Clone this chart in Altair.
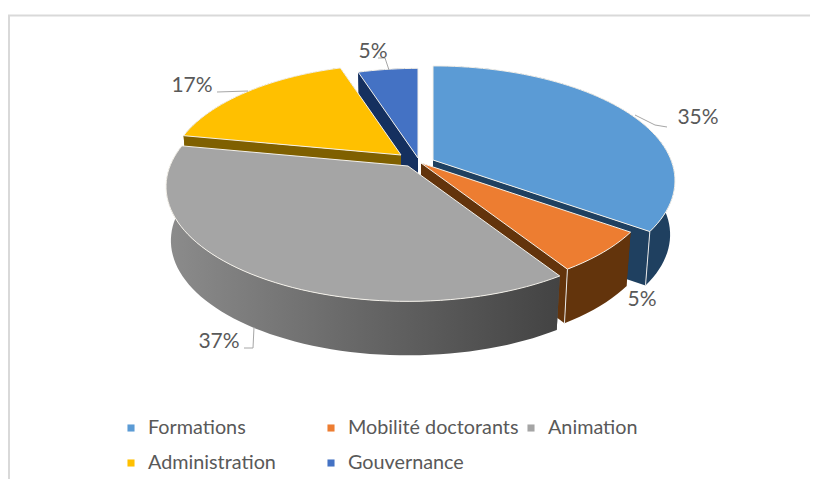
import math
import altair as alt
import pandas as pd

categories = ["Formations", "Mobilité doctorants", "Animation", "Administration", "Gouvernance"]
shares = [34.8, 6.1, 37.1, 17, 5]
labels = ["35%", "5%", "37%", "17%", "5%"]
top_colors = ["#5b9bd5", "#ed7d31", "#a5a5a5", "#ffc000", "#4472c4"]
dark_colors = ["#1f4060", "#63340c", "#555555", "#7f6000", "#15305f"]
apex_x = [433, 421, 408, 401, 418]
apex_y = [160, 163, 166, 155, 158]
radius = [1.0, 0.97, 1.0, 0.96, 0.945]
draw_order = [4, 0, 3, 1, 2]

label_x = [698, 642, 219, 192, 373]
label_y = [118, 300, 342, 86, 52]
leaders = [
    [(635, 115), (655, 125), (667, 127)],
    [(254, 327), (253, 348), (244, 348)],
    [(217, 92), (248, 91)],
    [(378, 58), (385, 58), (389, 70)],
]
legend_x = [131, 331, 531, 131, 331]
legend_y = [428, 428, 428, 463, 463]

W, H, OX, OY = 802, 471, 8, 8
A, B, P, DEPTH, SHRINK = 238, 111, 0.18, 54, 0.98

xs = alt.Scale(domain=[OX, OX + W], range=[0, W])
ys = alt.Scale(domain=[OY, OY + H], range=[0, H])


def rim(i, deg):
    t = math.radians(deg)
    u, v = radius[i] * math.sin(t), radius[i] * math.cos(t)
    s = 1 / (1 + P * v)
    return apex_x[i] + A * u * s, apex_y[i] - B * v * s


def low(i, pt):
    return apex_x[i] + (pt[0] - apex_x[i]) * SHRINK, pt[1] + DEPTH


def poly(points, **mark):
    pts = list(points) + [points[0]]
    df = pd.DataFrame({"x": [p[0] for p in pts], "y": [p[1] for p in pts], "o": range(len(pts))})
    return alt.Chart(df).mark_line(**mark).encode(
        x=alt.X("x:Q", scale=xs, axis=None),
        y=alt.Y("y:Q", scale=ys, axis=None),
        order="o:Q",
    )


def path(points, color, width):
    df = pd.DataFrame({"x": [p[0] for p in points], "y": [p[1] for p in points], "o": range(len(points))})
    return alt.Chart(df).mark_line(color=color, strokeWidth=width).encode(
        x=alt.X("x:Q", scale=xs, axis=None),
        y=alt.Y("y:Q", scale=ys, axis=None),
        order="o:Q",
    )


gray_gradient = alt.Gradient(
    gradient="linear", x1=0, x2=1, y1=0, y2=0,
    stops=[
        alt.GradientStop(color="#8c8c8c", offset=0),
        alt.GradientStop(color="#6a6a6a", offset=0.45),
        alt.GradientStop(color="#434343", offset=1),
    ],
)

starts = []
acc = 0
for s in shares:
    starts.append(acc)
    acc += s * 3.6

layers = []
for i in draw_order:
    a0 = starts[i]
    a1 = a0 + shares[i] * 3.6
    steps = max(8, int((a1 - a0) / 2))
    arc = [rim(i, a0 + (a1 - a0) * k / steps) for k in range(steps + 1)]
    apex = (apex_x[i], apex_y[i])
    dark = dark_colors[i]
    wall_fill = gray_gradient if i == 2 else dark
    layers.append(poly([apex, arc[0], low(i, arc[0]), low(i, apex)], fill=dark, color=dark, strokeWidth=0))
    layers.append(poly([apex, arc[-1], low(i, arc[-1]), low(i, apex)], fill=dark, color=dark, strokeWidth=0))
    layers.append(poly(arc + [low(i, p) for p in reversed(arc)], fill=wall_fill, strokeWidth=0, color=dark))
    if i in (0, 1):
        layers.append(path([arc[-1], low(i, arc[-1])], "#e8e8e8", 1))
    layers.append(poly([apex] + arc, fill=top_colors[i], color="#f4f1ea", strokeWidth=1))

for ln in leaders:
    layers.append(path(ln, "#a6a6a6", 1))

frame = [(9, 479), (9, 15.5), (810, 15.5)]
layers.insert(0, path(frame, "#d9d9d9", 2))

label_df = pd.DataFrame({"x": label_x, "y": label_y, "t": labels})
layers.append(
    alt.Chart(label_df).mark_text(font="Lato", fontSize=21, color="#595959").encode(
        x=alt.X("x:Q", scale=xs, axis=None), y=alt.Y("y:Q", scale=ys, axis=None), text="t:N"
    )
)
legend_df = pd.DataFrame({"x": legend_x, "y": legend_y, "t": categories, "c": top_colors})
legend_df["tx"] = legend_df["x"] + 17
layers.append(
    alt.Chart(legend_df).mark_square(size=50, opacity=1).encode(
        x=alt.X("x:Q", scale=xs, axis=None), y=alt.Y("y:Q", scale=ys, axis=None),
        color=alt.Color("c:N", scale=None),
    )
)
layers.append(
    alt.Chart(legend_df).mark_text(font="Lato", fontSize=19.8, color="#595959", align="left").encode(
        x=alt.X("tx:Q", scale=xs, axis=None), y=alt.Y("y:Q", scale=ys, axis=None), text="t:N"
    )
)

chart = alt.layer(*layers).properties(
    width=W, height=H, background="#ffffff",
    padding={"left": 0, "right": 0, "top": 0, "bottom": 0},
    autosize=alt.AutoSizeParams(type="none"),
).configure_view(stroke=None)
chart.save("out.html", embed_options={"renderer": "svg", "actions": False})
